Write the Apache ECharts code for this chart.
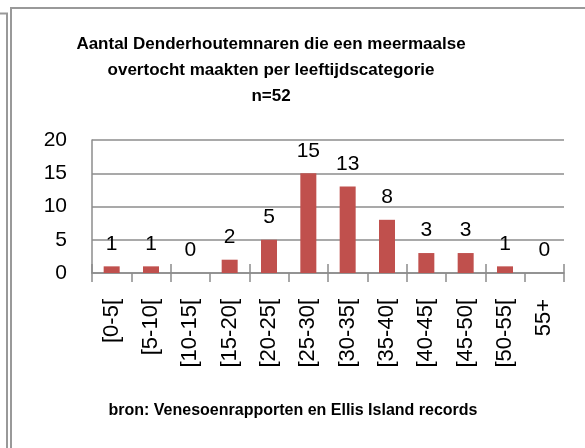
<!DOCTYPE html>
<html>
<head>
<meta charset="utf-8">
<script src="https://cdn.jsdelivr.net/npm/echarts@6/dist/echarts.min.js"></script>
<style>
  html, body { margin: 0; padding: 0; background: #fff; }
  #chart { width: 585px; height: 448px; }
</style>
</head>
<body>
<div id="chart"></div>
<script>
// leeftijdscategorieen en aantallen
var categories = ['[0-5[', '[5-10[', '[10-15[', '[15-20[', '[20-25[', '[25-30[',
                  '[30-35[', '[35-40[', '[40-45[', '[45-50[', '[50-55[', '55+'];
var counts = [1, 1, 0, 2, 5, 15, 13, 8, 3, 3, 1, 0];
var titleLines = ['Aantal Denderhoutemnaren die een meermaalse',
                  'overtocht maakten per leeftijdscategorie', 'n=52'];
var sourceText = 'bron: Venesoenrapporten en Ellis Island records';

var gray = '#8c8c8c';
var font = 'Liberation Sans, Arial, sans-serif';

var chart = echarts.init(document.getElementById('chart'));
var option = {
    animation: false,
    backgroundColor: '#fff',
    grid: { left: 92, right: 21, top: 140, bottom: 175 },
    xAxis: [
        {
            type: 'category',
            data: categories,
            axisLine: { show: true, lineStyle: { color: gray, width: 1.5 } },
            axisTick: { show: true, length: 9, lineStyle: { color: gray, width: 1.5 } },
            axisLabel: { rotate: 90, margin: 26, color: '#000', fontSize: 22, fontFamily: font }
        },
        {
            // ticks die naar binnen steken
            type: 'category',
            data: categories,
            position: 'bottom',
            axisLine: { show: false },
            axisTick: { show: true, inside: true, length: 9, lineStyle: { color: gray, width: 1.5 } },
            axisLabel: { show: false }
        }
    ],
    yAxis: {
        type: 'value',
        min: 0, max: 20, interval: 5,
        axisLine: { show: true, lineStyle: { color: gray, width: 1.5 } },
        axisTick: { show: false },
        splitLine: { lineStyle: { color: gray, width: 1.5 } },
        axisLabel: { margin: 25, color: '#000', fontSize: 21, fontFamily: font }
    },
    series: [
        {
            type: 'bar',
            data: counts,
            barWidth: 16,
            itemStyle: { color: '#c0504d' },
            label: {
                show: true,
                position: 'top',
                distance: 12,
                color: '#000',
                fontSize: 21,
                fontFamily: font
            }
        }
    ],
    graphic: [
        { type: 'polyline', shape: { points: [[0, 13.5], [7, 13.5], [7, 448]] },
          style: { stroke: '#999', lineWidth: 2, fill: null } },
        { type: 'polyline', shape: { points: [[11, 448], [11, 8], [585, 8]] },
          style: { stroke: '#999', lineWidth: 2, fill: null } },
        { type: 'text', x: 271, y: 70,
          style: { text: titleLines.join('\n'), textAlign: 'center', textVerticalAlign: 'middle',
                   lineHeight: 26, font: 'bold 17px ' + font, fill: '#000' } },
        { type: 'text', x: 293, y: 411,
          style: { text: sourceText, textAlign: 'center', textVerticalAlign: 'middle',
                   font: 'bold 16px ' + font, fill: '#000' } }
    ]
};
chart.setOption(option);
</script>
</body>
</html>
